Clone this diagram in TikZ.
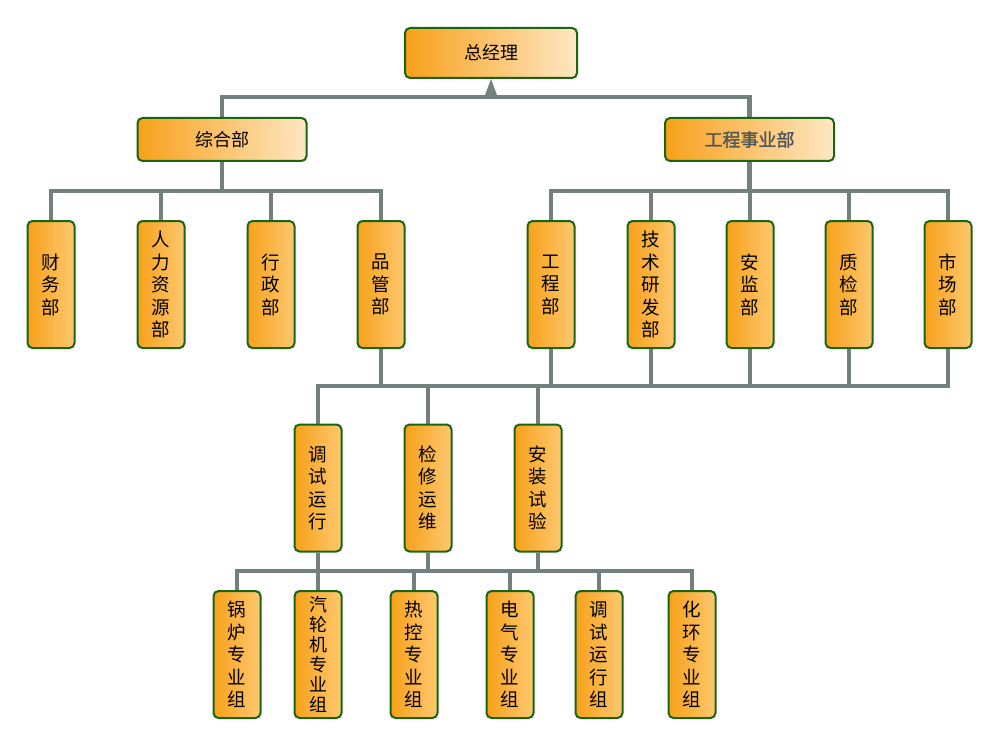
\documentclass[tikz,border=0pt]{standalone}
\usepackage{fontspec}
\setmainfont{Noto Sans CJK SC}
\newfontfamily\cjkbold{Noto Sans CJK SC}[FakeBold=1.5]
\usetikzlibrary{backgrounds}
\definecolor{linegray}{HTML}{748080}
\definecolor{boxgreen}{HTML}{1A6412}
\definecolor{orA}{HTML}{F7A11A}
\definecolor{orB}{HTML}{FDC870}
\definecolor{orC}{HTML}{FEE7C4}
\definecolor{txtgray}{HTML}{4F555A}
\begin{document}
\begin{tikzpicture}[x=1pt,y=-1pt,
  conn/.style={draw=linegray, line width=4.8pt, line join=miter},
  basebox/.style={draw=boxgreen, line width=2pt, rounded corners=5pt, inner sep=0pt, align=center},
  hbox/.style={basebox, left color=orA, right color=orC, minimum width=169pt, minimum height=43pt, font=\fontsize{18}{20}\selectfont},
  vbox/.style={basebox, left color=orA, right color=orB, minimum width=47pt, minimum height=127pt, font=\fontsize{18.5}{22.5}\selectfont},
  sixbox/.style={vbox, font=\fontsize{18}{20}\selectfont}]
\useasboundingbox (0,0) rectangle (1000,746);
% top
\node[hbox, minimum width=172pt, minimum height=50pt] (gm) at (491,53) {总经理};
\node[hbox] (zh) at (222,139.5) {综合部};
\node[hbox, text=txtgray, font=\fontsize{18}{20}\cjkbold] (gc) at (749.5,139.5) {工程事业部};
% second row
\node[vbox] (cw) at (51,284.5) {财\\务\\部};
\node[vbox] (rl) at (161,284.5) {人\\力\\资\\源\\部};
\node[vbox] (xz) at (271,284.5) {行\\政\\部};
\node[vbox] (pg) at (381,284.5) {品\\管\\部};
\node[vbox] (gcb) at (551,284.5) {工\\程\\部};
\node[vbox] (js) at (651,284.5) {技\\术\\研\\发\\部};
\node[vbox] (aj) at (750,284.5) {安\\监\\部};
\node[vbox] (zj) at (849,284.5) {质\\检\\部};
\node[vbox] (sc) at (948,284.5) {市\\场\\部};
% third row
\node[vbox] (ts) at (318,488) {调\\试\\运\\行};
\node[vbox] (jx) at (428,488) {检\\修\\运\\维};
\node[vbox] (az) at (538,488) {安\\装\\试\\验};
% bottom row
\node[vbox] (gl) at (237,654.5) {锅\\炉\\专\\业\\组};
\node[sixbox] (qlj) at (318,654.5) {汽\\轮\\机\\专\\业\\组};
\node[vbox] (rk) at (414,654.5) {热\\控\\专\\业\\组};
\node[vbox] (dq) at (510,654.5) {电\\气\\专\\业\\组};
\node[vbox] (tsz) at (599,654.5) {调\\试\\运\\行\\组};
\node[vbox] (hh) at (692,654.5) {化\\环\\专\\业\\组};
\coordinate (b1) at (491,97);
\coordinate (b2) at (0,191);
\coordinate (b3) at (0,386);
\coordinate (b4) at (0,571);
\begin{pgfonlayer}{background}
% level 1
\draw[conn] (zh.north) |- (b1) -| (gc.north);
\fill[linegray] (gm.south) -- ++(-7,19) -- ++(14,0) -- cycle;
% level 2 left
\draw[conn] (zh.south) -- (zh.south |- b2);
\draw[conn] (cw.north) |- (b2 -| pg.north) -- (pg.north);
\draw[conn] (rl.north) -- (rl.north |- b2);
\draw[conn] (xz.north) -- (xz.north |- b2);
% level 2 right
\draw[conn] (gc.south) -- (gc.south |- b2);
\draw[conn] (gcb.north) |- (b2 -| sc.north) -- (sc.north);
\draw[conn] (js.north) -- (js.north |- b2);
\draw[conn] (aj.north) -- (aj.north |- b2);
\draw[conn] (zj.north) -- (zj.north |- b2);
% level 3 bus
\draw[conn] (ts.north) |- (b3 -| sc.south) -- (sc.south);
\draw[conn] (pg.south) -- (pg.south |- b3);
\draw[conn] (gcb.south) -- (gcb.south |- b3);
\draw[conn] (js.south) -- (js.south |- b3);
\draw[conn] (aj.south) -- (aj.south |- b3);
\draw[conn] (zj.south) -- (zj.south |- b3);
\draw[conn] (jx.north) -- (jx.north |- b3);
\draw[conn] (az.north) -- (az.north |- b3);
% level 4 bus
\draw[conn] (gl.north) |- (b4 -| hh.north) -- (hh.north);
\draw[conn] (ts.south) -- (ts.south |- b4);
\draw[conn] (jx.south) -- (jx.south |- b4);
\draw[conn] (az.south) -- (az.south |- b4);
\draw[conn] (qlj.north) -- (qlj.north |- b4);
\draw[conn] (rk.north) -- (rk.north |- b4);
\draw[conn] (dq.north) -- (dq.north |- b4);
\draw[conn] (tsz.north) -- (tsz.north |- b4);
\end{pgfonlayer}
\end{tikzpicture}
\end{document}
